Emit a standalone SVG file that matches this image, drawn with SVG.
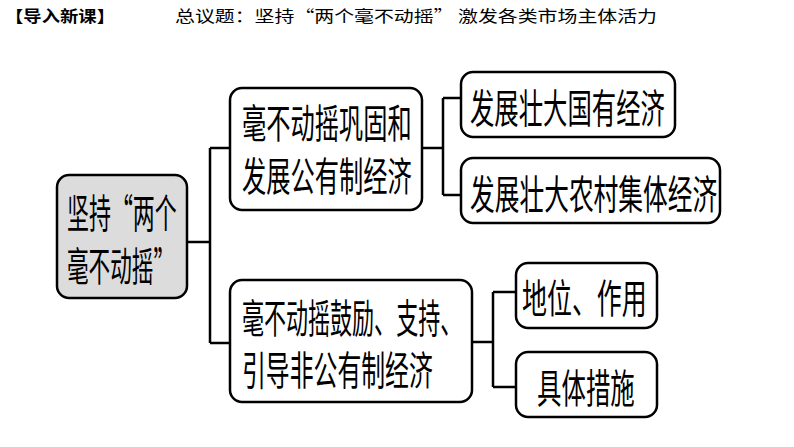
<svg xmlns="http://www.w3.org/2000/svg" width="794" height="447" viewBox="0 0 794 447">
<style>
.box{fill:#fff;stroke:#000;stroke-width:2.5}
.root{fill:#dcdcdc;stroke:#000;stroke-width:2.5}
.t{font-family:"Noto Sans CJK SC","Noto Sans",sans-serif;font-size:40px;fill:#000}
.h{font-family:"Noto Sans CJK SC","Noto Sans",sans-serif;font-size:16px;fill:#000}
.c{fill:none;stroke:#000;stroke-width:2.5}
</style>
<rect width="794" height="447" fill="#fff"/>
<g id="header">
<text class="h" x="5" y="22" textLength="110" lengthAdjust="spacingAndGlyphs" font-weight="bold">【导入新课】</text>
<text class="h" x="175" y="22" textLength="482" lengthAdjust="spacingAndGlyphs">总议题：坚持“两个毫不动摇” 激发各类市场主体活力</text>
</g>
<g id="connectors">
<path class="c" d="M187 242 H210 M210 148 V343 M210 148 H230 M210 343 H230"/>
<path class="c" d="M422 148 H443 M443 98 V195 M443 98 H461 M443 195 H461"/>
<path class="c" d="M472 342 H493 M493 292 V387 M493 292 H516 M493 387 H516"/>
</g>
<g id="root">
<rect class="root" x="57" y="175" width="130" height="123" rx="12"/>
<text class="t" transform="translate(67 228) scale(0.6 1)" textLength="183" lengthAdjust="spacingAndGlyphs">坚持“两个</text>
<text class="t" transform="translate(67 281) scale(0.6 1)" textLength="180" lengthAdjust="spacingAndGlyphs">毫不动摇”</text>
</g>
<g id="public">
<rect class="box" x="230" y="88" width="192" height="122" rx="12"/>
<text class="t" transform="translate(242 138) scale(0.6 1)" textLength="283" lengthAdjust="spacingAndGlyphs">毫不动摇巩固和</text>
<text class="t" transform="translate(242 191) scale(0.6 1)" textLength="283" lengthAdjust="spacingAndGlyphs">发展公有制经济</text>
</g>
<g id="state">
<rect class="box" x="461" y="72" width="214" height="65" rx="12"/>
<text class="t" transform="translate(470 123) scale(0.6 1)" textLength="325" lengthAdjust="spacingAndGlyphs">发展壮大国有经济</text>
</g>
<g id="collective">
<rect class="box" x="461" y="158" width="259" height="65" rx="12"/>
<text class="t" transform="translate(470 209) scale(0.6 1)" textLength="412" lengthAdjust="spacingAndGlyphs">发展壮大农村集体经济</text>
</g>
<g id="nonpublic">
<rect class="box" x="230" y="280" width="242" height="122" rx="12"/>
<text class="t" transform="translate(242 333) scale(0.6 1)" textLength="367" lengthAdjust="spacingAndGlyphs">毫不动摇鼓励、支持、</text>
<text class="t" transform="translate(242 385) scale(0.6 1)" textLength="318" lengthAdjust="spacingAndGlyphs">引导非公有制经济</text>
</g>
<g id="role">
<rect class="box" x="516" y="263" width="141" height="65" rx="12"/>
<text class="t" transform="translate(522 313) scale(0.6 1)" textLength="208" lengthAdjust="spacingAndGlyphs">地位、作用</text>
</g>
<g id="measures">
<rect class="box" x="516" y="352" width="141" height="65" rx="12"/>
<text class="t" transform="translate(537 403) scale(0.6 1)" textLength="163" lengthAdjust="spacingAndGlyphs">具体措施</text>
</g>
</svg>
